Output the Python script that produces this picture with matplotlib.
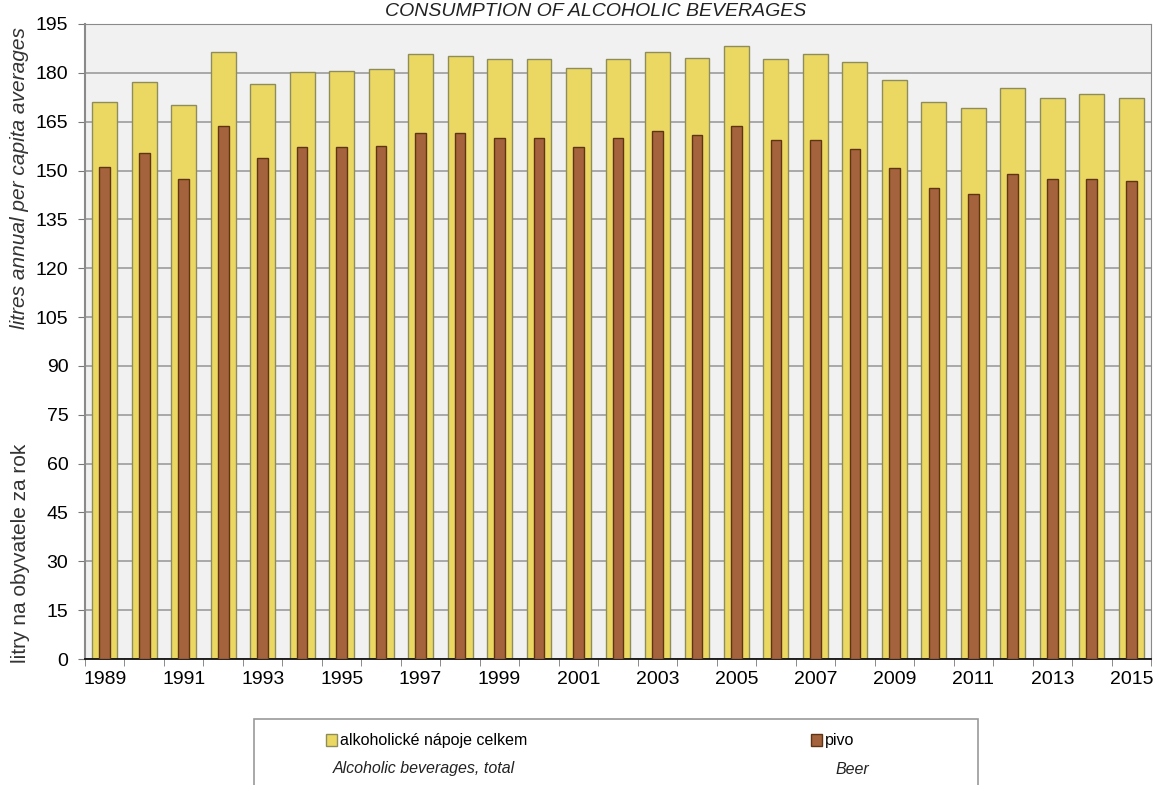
import matplotlib
matplotlib.use("Agg")
import matplotlib.pyplot as plt
from matplotlib.patches import Rectangle
import numpy as np

plt.rcParams['font.family'] = ['Liberation Sans', 'DejaVu Sans']

# litres per capita
years = list(range(1989, 2016))
total = [170.9, 177.3, 170.1, 186.4, 176.7, 180.3, 180.5, 181.1, 185.8, 185.3,
         184.2, 184.2, 181.5, 184.4, 186.4, 184.7, 188.1, 184.2, 185.8, 183.2,
         177.7, 171.2, 169.1, 175.3, 172.3, 173.4, 172.4]
beer = [151.1, 155.4, 147.5, 163.7, 153.9, 157.1, 157.1, 157.6, 161.4, 161.4,
        159.9, 159.9, 157.1, 159.9, 162.0, 160.8, 163.7, 159.3, 159.3, 156.6,
        150.8, 144.7, 142.7, 149.0, 147.5, 147.5, 146.7]
y_ticks = list(range(0, 196, 15))

W, H = 1157, 785
fig = plt.figure(figsize=(W / 100, H / 100), dpi=100)
ax = fig.add_axes([85 / W, 1 - 659 / H, (1151 - 85) / W, (659 - 24) / H])
ax.set_facecolor('#f1f1f1')

x = np.arange(len(years))
b_total = ax.bar(x, total, width=0.63, color='#ebd862', edgecolor='#8e8c5c',
                 linewidth=1.0, zorder=2)
b_beer = ax.bar(x, beer, width=0.27, color='#a5633d', edgecolor='#5e3414',
                linewidth=1.0, zorder=3)

ax.set_xlim(-0.5, len(years) - 0.5)
ax.set_ylim(0, 195)
ax.set_yticks(y_ticks)
ax.yaxis.grid(True, color='#a3a3a3', linewidth=1.3, zorder=0)
ax.set_axisbelow(True)

# labels under every other bar, tick marks between bars
ax.set_xticks(x[::2])
ax.set_xticklabels([str(y) for y in years[::2]])
ax.set_xticks(np.arange(-0.5, len(years), 1.0), minor=True)
ax.tick_params(axis='x', which='major', length=0, pad=9, labelsize=14)
ax.tick_params(axis='x', which='minor', length=5, color='#777777')
ax.tick_params(axis='y', length=5, color='#777777', pad=7, labelsize=14)

for s in ['top', 'right', 'left']:
    ax.spines[s].set_color('#8a8a8a')
ax.spines['left'].set_linewidth(1.5)
ax.spines['bottom'].set_color('#111111')
ax.spines['bottom'].set_linewidth(1.3)

# titles and axis captions
fig.text(596 / W, 1 - 16 / H, 'CONSUMPTION OF ALCOHOLIC BEVERAGES', ha='center',
         va='baseline', fontsize=14, style='italic', color='#222222')
fig.text(20 / W, 1 - 178 / H, 'litres annual per capita averages', rotation=90,
         ha='center', va='center', fontsize=15, style='italic', color='#333333')
fig.text(21 / W, 1 - 553 / H, 'litry na obyvatele za rok', rotation=90,
         ha='center', va='center', fontsize=15, color='#333333')

# legend box
fig.patches.append(Rectangle((254 / W, -0.02), (978 - 254) / W, 0.02 + 1 - 719 / H,
                             transform=fig.transFigure, facecolor='white',
                             edgecolor='#9a9a9a', linewidth=1.2))
fig.legend([b_total], ['alkoholické nápoje celkem'], loc='center left',
           bbox_to_anchor=(326 / W, 1 - 741 / H), frameon=False, fontsize=11.5,
           handlelength=0.7, handleheight=0.7, handletextpad=0.2,
           borderpad=0, borderaxespad=0)
fig.legend([b_beer], ['pivo'], loc='center left',
           bbox_to_anchor=(811 / W, 1 - 741 / H), frameon=False, fontsize=11.5,
           handlelength=0.7, handleheight=0.7, handletextpad=0.2,
           borderpad=0, borderaxespad=0)
fig.text(424 / W, 1 - 769 / H, 'Alcoholic beverages, total', ha='center',
         va='center', fontsize=11.5, style='italic', color='#222222')
fig.text(852 / W, 1 - 769 / H, 'Beer', ha='center', va='center', fontsize=11.5,
         style='italic', color='#222222')

fig.savefig('out.png', dpi=100)
